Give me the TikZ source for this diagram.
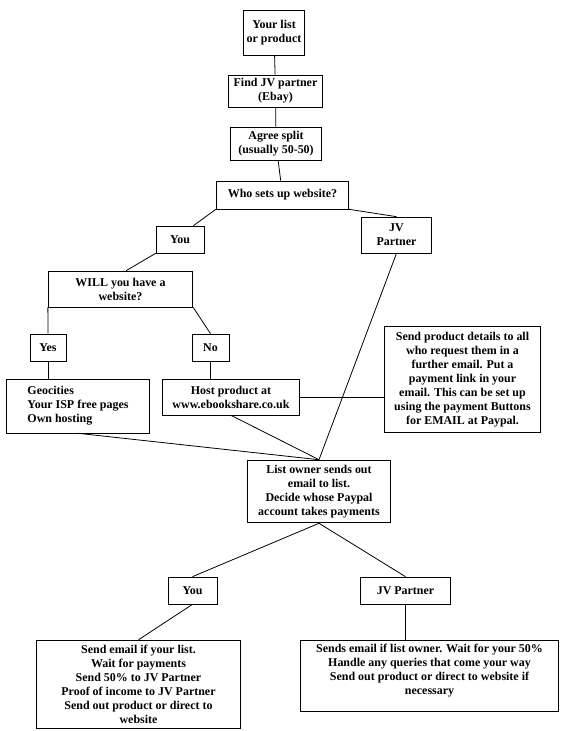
\documentclass[tikz,border=0pt]{standalone}
\usepackage{fontspec}
\setmainfont{Liberation Serif}

\begin{document}
\begin{tikzpicture}[x=1bp,y=-1bp,
    box/.style={shape=rectangle,draw=black,line width=0.8pt,inner sep=0pt,align=center,
      font=\bfseries\fontsize{12}{14}\selectfont},
    conn/.style={-,line width=0.8pt}]
        \useasboundingbox (0,0) rectangle (575,731);
        \node[box,minimum width=62,minimum height=45] (list) at (274,32.5) {Your list\\or product};
        \node[box,minimum width=95,minimum height=32] (find) at (275.5,91) {Find JV partner\\(Ebay)};
        \node[box,minimum width=92,minimum height=33] (agree) at (276,143.5) {Agree split\\(usually 50-50)};
        \node[box,minimum width=133,minimum height=28] (who) at (282.5,195) {Who sets up website?};
        \node[box,minimum width=48,minimum height=27] (you1) at (180,239.5) {You};
        \node[box,minimum width=71,minimum height=36] (jv1) at (396.5,235) {JV\\Partner};
        \node[box,minimum width=145,minimum height=36] (will) at (120.5,289) {WILL you have a\\website?};
        \node[box,minimum width=36,minimum height=27] (yes) at (48,347.5) {Yes};
        \node[box,minimum width=37,minimum height=27] (no) at (210.5,347.5) {No};
        \node[box,minimum width=144,minimum height=54,align=left] (geo) at (78,406) {Geocities\\Your ISP free pages\\Own hosting};
        \node[box,minimum width=138,minimum height=36] (host) at (231,397) {Host product at\\www.ebookshare.co.uk};
        \node[box,minimum width=157,minimum height=107] (send) at (462.5,379.5) {Send product details to all\\who request them in a\\further email. Put a\\payment link in your\\email. This can be set up\\using the payment Buttons\\for EMAIL at Paypal.};
        \node[box,minimum width=144,minimum height=63] (owner) at (319,491.5) {List owner sends out\\email to list.\\Decide whose Paypal\\account takes payments};
        \node[box,minimum width=49,minimum height=27] (you2) at (192.5,590.5) {You};
        \node[box,minimum width=91,minimum height=27] (jv2) at (405.5,590.5) {JV Partner};
        \node[box,minimum width=205,minimum height=89] (youtasks) at (138.5,684.5) {Send email if your list.\\Wait for payments\\Send 50\% to JV Partner\\Proof of income to JV Partner\\Send out product or direct to\\website};
        \node[box,minimum width=259,minimum height=72] (jvtasks) at (429.5,676) {Sends email if list owner. Wait for your 50\%\\Handle any queries that come your way\\Send out product or direct to website if\\necessary\\~};
        \path [conn] (list) edge (find);
        \path [conn] (find) edge (agree);
        \path [conn] (agree) edge (who);
        \path [conn] (who.south west) edge (you1.46);
        \path [conn] (who.south east) edge (jv1.north);
        \path [conn] (you1.south west) edge (will.73);
        \path [conn] (will.south west) edge (yes.north);
        \path [conn] (will.south east) edge (no.north);
        \path [conn] (yes.south) edge (yes.south |- geo.north);
        \path [conn] (no.south) edge (no.south |- host.north);
        \path [conn] (host.east) edge (host.east -| send.west);
        \path [conn] (geo.south) edge (owner.north);
        \path [conn] (host.south) edge (owner.north);
        \path [conn] (jv1.south) edge (owner.north);
        \path [conn] (owner.south) edge (you2.north);
        \path [conn] (owner.south) edge (jv2.north);
        \path [conn] (you2.south) edge (youtasks.north);
        \path [conn] (jv2.south) edge (jv2.south |- jvtasks.north);
    \end{tikzpicture}
\end{document}
